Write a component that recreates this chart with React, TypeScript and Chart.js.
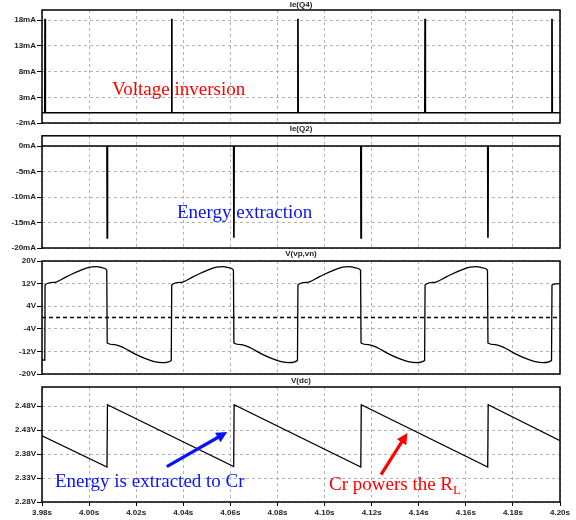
import React, { useEffect, useRef } from "react";
import { Chart, registerables } from "chart.js";

Chart.register(...registerables);

// ---------- data ----------
const xTickValues = [3.98, 4.0, 4.02, 4.04, 4.06, 4.08, 4.1, 4.12, 4.14, 4.16, 4.18, 4.2];
const xTickLabels = ["3.98s", "4.00s", "4.02s", "4.04s", "4.06s", "4.08s", "4.10s", "4.12s", "4.14s", "4.16s", "4.18s", "4.20s"];

const q4TickValues = [-2, 3, 8, 13, 18];
const q4TickLabels = ["-2mA", "3mA", "8mA", "13mA", "18mA"];
const q4Times = [3.98, 3.9812, 3.9813, 3.9814, 4.035, 4.0351, 4.0352, 4.0886, 4.0887, 4.0888, 4.1426, 4.1427, 4.1428, 4.1965, 4.1966, 4.1967, 4.2];
const q4Values = [0, 0, 18.3, 0, 0, 18.3, 0, 0, 18.3, 0, 0, 18.3, 0, 0, 18.3, 0, 0];

const q2TickValues = [-20, -15, -10, -5, 0];
const q2TickLabels = ["-20mA", "-15mA", "-10mA", "-5mA", "0mA"];
const q2Times = [3.98, 4.0076, 4.0077, 4.0078, 4.0614, 4.0615, 4.0616, 4.1154, 4.1155, 4.1156, 4.1693, 4.1694, 4.1695, 4.2];
const q2Values = [0, 0, -18, 0, 0, -18, 0, 0, -18, 0, 0, -18, 0, 0];

const vTickValues = [-20, -12, -4, 4, 12, 20];
const vTickLabels = ["-20V", "-12V", "-4V", "4V", "12V", "20V"];
const vTimes = [
  3.98, 3.9812,
  3.9813, 3.9849, 3.9905, 3.9961, 4.0003, 4.0033, 4.0058, 4.0075,
  4.0077, 4.0107, 4.0149, 4.0192, 4.0234, 4.0277, 4.0312, 4.0349,
  4.0351, 4.0387, 4.0443, 4.0499, 4.0541, 4.0571, 4.0596, 4.0613,
  4.0615, 4.0645, 4.0687, 4.073, 4.0772, 4.0815, 4.085, 4.0885,
  4.0887, 4.0923, 4.0979, 4.1035, 4.1077, 4.1107, 4.1132, 4.1153,
  4.1155, 4.1185, 4.1227, 4.127, 4.1312, 4.1355, 4.139, 4.1425,
  4.1427, 4.1463, 4.1519, 4.1575, 4.1617, 4.1647, 4.1672, 4.1692,
  4.1694, 4.1724, 4.1766, 4.1809, 4.1851, 4.1894, 4.1929, 4.1964,
  4.1966, 4.2,
];
const vValues = [
  -15.0, -15.1,
  11.5, 12.4, 14.5, 16.6, 17.8, 18.0, 17.6, 16.8,
  -9.0, -9.6, -10.8, -12.8, -14.4, -15.6, -16.0, -15.2,
  11.5, 12.4, 14.5, 16.6, 17.8, 18.0, 17.6, 16.8,
  -9.0, -9.6, -10.8, -12.8, -14.4, -15.6, -16.0, -15.2,
  11.5, 12.4, 14.5, 16.6, 17.8, 18.0, 17.6, 16.8,
  -9.0, -9.6, -10.8, -12.8, -14.4, -15.6, -16.0, -15.2,
  11.5, 12.4, 14.5, 16.6, 17.8, 18.0, 17.6, 16.8,
  -9.0, -9.6, -10.8, -12.8, -14.4, -15.6, -16.0, -15.2,
  11.5, 12.0,
];
const zeroTimes = [3.98, 4.2];
const zeroValues = [0, 0];

const dcTickValues = [2.28, 2.33, 2.38, 2.43, 2.48];
const dcTickLabels = ["2.28V", "2.33V", "2.38V", "2.43V", "2.48V"];
const dcTimes = [3.98, 4.0076, 4.0078, 4.0614, 4.0616, 4.1154, 4.1156, 4.1693, 4.1695, 4.2];
const dcValues = [2.418, 2.353, 2.483, 2.354, 2.483, 2.353, 2.483, 2.353, 2.483, 2.408];

// annotation arrows (tail -> tip) in data units of the V(dc) panel
const blueArrowTimes = [4.033, 4.0587];
const blueArrowValues = [2.354, 2.426];
const redArrowTimes = [4.124, 4.1352];
const redArrowValues = [2.337, 2.424];

// ---------- helpers ----------
const toXY = (xs: number[], ys: number[]) => xs.map((x, i) => ({ x, y: ys[i] }));

const TICK_FONT = { family: "'Liberation Sans', Arial, sans-serif", size: 8, weight: "bold" as const };

const framePlugin = {
  id: "frame",
  afterDraw(chart: any) {
    const { ctx, chartArea: a } = chart;
    ctx.save();
    ctx.strokeStyle = "#000";
    ctx.lineWidth = 1.5;
    ctx.strokeRect(a.left, a.top, a.right - a.left, a.bottom - a.top);
    ctx.restore();
  },
};

function drawArrow(ctx: CanvasRenderingContext2D, x1: number, y1: number, x2: number, y2: number, color: string) {
  const ang = Math.atan2(y2 - y1, x2 - x1);
  const head = 11;
  const hw = 5.5;
  const bx = x2 - head * Math.cos(ang);
  const by = y2 - head * Math.sin(ang);
  ctx.save();
  ctx.strokeStyle = color;
  ctx.fillStyle = color;
  ctx.lineWidth = 3.2;
  ctx.beginPath();
  ctx.moveTo(x1, y1);
  ctx.lineTo(bx + Math.cos(ang), by + Math.sin(ang));
  ctx.stroke();
  ctx.beginPath();
  ctx.moveTo(x2, y2);
  ctx.lineTo(bx + hw * Math.sin(ang), by - hw * Math.cos(ang));
  ctx.lineTo(bx - hw * Math.sin(ang), by + hw * Math.cos(ang));
  ctx.closePath();
  ctx.fill();
  ctx.restore();
}

const arrowPlugin = {
  id: "arrows",
  afterDraw(chart: any) {
    const { ctx, scales } = chart;
    const x = scales.x;
    const y = scales.y;
    drawArrow(
      ctx,
      x.getPixelForValue(blueArrowTimes[0]), y.getPixelForValue(blueArrowValues[0]),
      x.getPixelForValue(blueArrowTimes[1]), y.getPixelForValue(blueArrowValues[1]),
      "#0a14f0"
    );
    drawArrow(
      ctx,
      x.getPixelForValue(redArrowTimes[0]), y.getPixelForValue(redArrowValues[0]),
      x.getPixelForValue(redArrowTimes[1]), y.getPixelForValue(redArrowValues[1]),
      "#ff0000"
    );
  },
};

interface PanelSpec {
  top: number;
  height: number;
  padTop: number;
  padBottom: number;
  xAxisH: number;
  showX: boolean;
  yMin: number;
  yMax: number;
  yTicks: number[];
  yLabels: string[];
  datasets: any[];
  plugins: any[];
}

function Panel({ spec }: { spec: PanelSpec }) {
  const ref = useRef<HTMLCanvasElement | null>(null);
  useEffect(() => {
    if (!ref.current) return;
    const chart = new Chart(ref.current, {
      type: "line",
      data: { datasets: spec.datasets },
      options: {
        animation: false,
        responsive: false,
        devicePixelRatio: 1,
        layout: { padding: { top: spec.padTop, bottom: spec.padBottom, left: 0, right: 16 } },
        plugins: { legend: { display: false }, tooltip: { enabled: false }, title: { display: false } },
        elements: { point: { radius: 0 } },
        scales: {
          x: {
            type: "linear",
            min: 3.98,
            max: 4.2,
            afterBuildTicks: (s: any) => {
              s.ticks = xTickValues.map((v) => ({ value: v }));
            },
            afterFit: (s: any) => {
              s.height = spec.xAxisH;
            },
            ticks: {
              display: spec.showX,
              font: TICK_FONT,
              color: "#222",
              padding: 2,
              maxRotation: 0,
              autoSkip: false,
              callback: (_v: any, i: number) => xTickLabels[i],
            },
            grid: {
              color: "#b4b4b4",
              lineWidth: 1,
              drawTicks: spec.showX,
              tickLength: 4,
              tickColor: "#000",
            },
            border: { display: false, dash: [3, 3] },
          },
          y: {
            type: "linear",
            min: spec.yMin,
            max: spec.yMax,
            afterBuildTicks: (s: any) => {
              s.ticks = spec.yTicks.map((v) => ({ value: v }));
            },
            afterFit: (s: any) => {
              s.width = 42;
            },
            ticks: {
              font: TICK_FONT,
              color: "#222",
              padding: 1,
              autoSkip: false,
              callback: (_v: any, i: number) => spec.yLabels[i],
            },
            grid: {
              color: "#b4b4b4",
              lineWidth: 1,
              drawTicks: true,
              tickLength: 5,
              tickColor: "#000",
            },
            border: { display: false, dash: [3, 3] },
          },
        },
      },
      plugins: [framePlugin, ...spec.plugins],
    } as any);
    return () => chart.destroy();
  }, []);
  return (
    <canvas
      ref={ref}
      width={576}
      height={spec.height}
      style={{ position: "absolute", left: 0, top: spec.top, width: 576, height: spec.height }}
    />
  );
}

const lineStyle = { borderColor: "#000", backgroundColor: "#000", fill: false, pointRadius: 0 };

const panels: PanelSpec[] = [
  {
    top: 0, height: 130, padTop: 10, padBottom: 7, xAxisH: 0, showX: false,
    yMin: -2, yMax: 20, yTicks: q4TickValues, yLabels: q4TickLabels,
    datasets: [{ ...lineStyle, data: toXY(q4Times, q4Values), borderWidth: 1.7 }],
    plugins: [],
  },
  {
    top: 130, height: 125, padTop: 5, padBottom: 7, xAxisH: 0, showX: false,
    yMin: -20, yMax: 2, yTicks: q2TickValues, yLabels: q2TickLabels,
    datasets: [{ ...lineStyle, data: toXY(q2Times, q2Values), borderWidth: 1.7 }],
    plugins: [],
  },
  {
    top: 255, height: 125, padTop: 6, padBottom: 6, xAxisH: 0, showX: false,
    yMin: -20, yMax: 20, yTicks: vTickValues, yLabels: vTickLabels,
    datasets: [
      { ...lineStyle, data: toXY(vTimes, vValues), borderWidth: 1.3, cubicInterpolationMode: "monotone" },
      { ...lineStyle, data: toXY(zeroTimes, zeroValues), borderWidth: 1.3, borderDash: [4, 3] },
    ],
    plugins: [],
  },
  {
    top: 380, height: 140, padTop: 7, padBottom: 0, xAxisH: 18, showX: true,
    yMin: 2.28, yMax: 2.52, yTicks: dcTickValues, yLabels: dcTickLabels,
    datasets: [{ ...lineStyle, data: toXY(dcTimes, dcValues), borderWidth: 1.3 }],
    plugins: [arrowPlugin],
  },
];

const titles = [
  { text: "Ie(Q4)", top: 0 },
  { text: "Ie(Q2)", top: 124 },
  { text: "V(vp,vn)", top: 249 },
  { text: "V(dc)", top: 376 },
];

const serif = "'Liberation Serif', 'Times New Roman', serif";

export default function App() {
  return (
    <div style={{ position: "absolute", left: 0, top: 0, width: 576, height: 520, background: "#fff", overflow: "hidden" }}>
      {panels.map((p, i) => (
        <Panel key={i} spec={p} />
      ))}
      {titles.map((t, i) => (
        <div
          key={"t" + i}
          style={{
            position: "absolute", left: 42, width: 518, top: t.top, textAlign: "center",
            font: "bold 8px 'Liberation Sans', Arial, sans-serif", lineHeight: "10px", color: "#222",
          }}
        >
          {t.text}
        </div>
      ))}
      <div style={{ position: "absolute", left: 112, top: 79, fontFamily: serif, fontSize: 19, lineHeight: "19px", color: "#ff0000", whiteSpace: "nowrap" }}>
        Voltage inversion
      </div>
      <div style={{ position: "absolute", left: 177, top: 202, fontFamily: serif, fontSize: 19, lineHeight: "19px", color: "#0a14f0", whiteSpace: "nowrap" }}>
        Energy extraction
      </div>
      <div style={{ position: "absolute", left: 55, top: 471, fontFamily: serif, fontSize: 19, lineHeight: "19px", color: "#0a14f0", whiteSpace: "nowrap" }}>
        Energy is extracted to Cr
      </div>
      <div style={{ position: "absolute", left: 329, top: 474, fontFamily: serif, fontSize: 19, lineHeight: "19px", color: "#ff0000", whiteSpace: "nowrap" }}>
        Cr powers the R<sub style={{ fontSize: 13, lineHeight: 0, verticalAlign: "-4px" }}>L</sub>
      </div>
    </div>
  );
}
